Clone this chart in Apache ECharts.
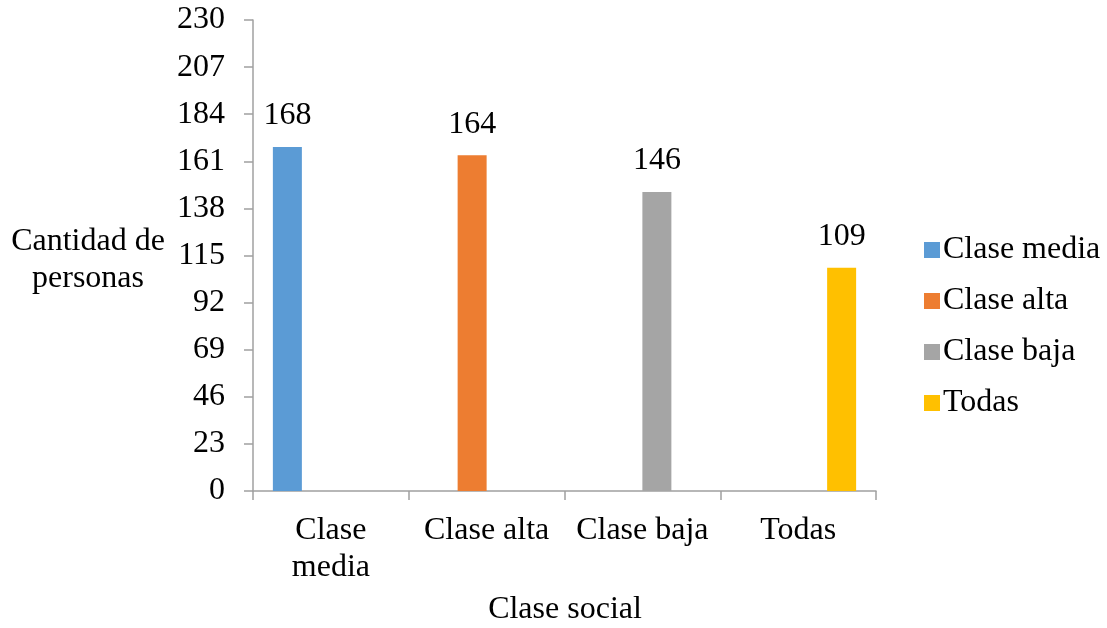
<!DOCTYPE html>
<html>
<head>
<meta charset="utf-8">
<script src="https://cdn.jsdelivr.net/npm/echarts@6/dist/echarts.min.js"></script>
<style>
html,body{margin:0;padding:0;background:#fff;}
#c{width:1107px;height:628px;}
</style>
</head>
<body>
<div id="c"></div>
<script>
const categories = ['Clase\nmedia', 'Clase alta', 'Clase baja', 'Todas'];
const seriesNames = ['Clase media', 'Clase alta', 'Clase baja', 'Todas'];
const values = [168, 164, 146, 109];
const colors = ['#5B9BD5', '#ED7D31', '#A5A5A5', '#FFC000'];
const yTicks = [0, 23, 46, 69, 92, 115, 138, 161, 184, 207, 230];

const FONT = "'Liberation Serif', 'Times New Roman', serif";
const FS = 32;

const chart = echarts.init(document.getElementById('c'));
const series = seriesNames.map((name, i) => ({
  name: name,
  type: 'bar',
  barWidth: 29,
  barGap: '0%',
  itemStyle: { color: colors[i] },
  data: categories.map((c, j) => (j === i ? values[i] : null)),
  label: {
    show: true,
    position: 'top',
    distance: 15,
    color: '#000',
    fontFamily: FONT,
    fontSize: FS
  }
}));

chart.setOption({
  animation: false,
  backgroundColor: '#fff',
  textStyle: { fontFamily: FONT },
  grid: { left: 253, right: 231, top: 20, bottom: 137, containLabel: false },
  legend: {
    orient: 'vertical',
    left: 919,
    top: 229,
    itemWidth: 16,
    itemHeight: 16,
    itemGap: 19,
    icon: 'rect',
    data: seriesNames,
    textStyle: { fontFamily: FONT, fontSize: FS, color: '#000', lineHeight: 32, padding: [0, 0, 0, -2] }
  },
  xAxis: {
    type: 'category',
    data: categories,
    axisLine: { show: true, lineStyle: { color: '#A0A0A0', width: 1.5 } },
    axisTick: { show: true, length: 9, lineStyle: { color: '#A0A0A0', width: 1.5 } },
    axisLabel: { color: '#000', fontFamily: FONT, fontSize: FS, margin: 21, lineHeight: 37, interval: 0 },
    splitLine: { show: false }
  },
  yAxis: {
    type: 'value',
    min: yTicks[0],
    max: yTicks[yTicks.length - 1],
    interval: 23,
    axisLine: { show: true, lineStyle: { color: '#A0A0A0', width: 1.5 } },
    axisTick: { show: true, length: 9, lineStyle: { color: '#A0A0A0', width: 1.5 } },
    axisLabel: { color: '#000', fontFamily: FONT, fontSize: FS, margin: 28 },
    splitLine: { show: false }
  },
  graphic: [
    {
      type: 'text',
      x: 88,
      y: 260,
      style: {
        text: 'Cantidad de\npersonas',
        align: 'center',
        verticalAlign: 'middle',
        fontFamily: FONT,
        fontSize: FS,
        lineHeight: 37,
        fill: '#000'
      }
    },
    {
      type: 'text',
      x: 565,
      y: 610,
      style: {
        text: 'Clase social',
        align: 'center',
        verticalAlign: 'middle',
        fontFamily: FONT,
        fontSize: FS,
        fill: '#000'
      }
    }
  ],
  series: series
});
</script>
</body>
</html>
